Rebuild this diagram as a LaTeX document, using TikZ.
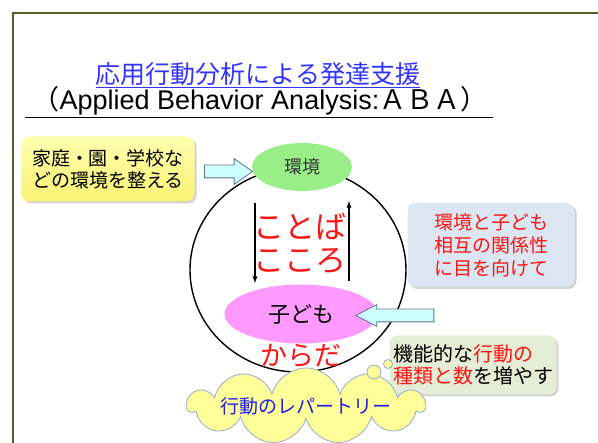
\documentclass[tikz,border=0pt]{standalone}
\usepackage{fontspec}
\setmainfont{Liberation Sans}
\newfontfamily\jp{Noto Sans CJK JP}
\usetikzlibrary{shapes.geometric,shapes.arrows,shapes.symbols,shadows}
\definecolor{framegreen}{RGB}{79,98,40}
\definecolor{titleblue}{RGB}{51,51,255}
\definecolor{yellowtop}{RGB}{255,255,175}
\definecolor{yellowbot}{RGB}{250,242,115}
\definecolor{cloudyellow}{RGB}{255,255,153}
\definecolor{envgreen}{RGB}{153,238,136}
\definecolor{kidpink}{RGB}{255,153,255}
\definecolor{arrcyan}{RGB}{204,255,255}
\definecolor{arrline}{RGB}{95,115,135}
\definecolor{boxblue}{RGB}{220,230,242}
\definecolor{boxgreen}{RGB}{228,237,214}
\definecolor{cloudline}{RGB}{150,172,205}
\definecolor{abared}{RGB}{255,20,20}
\definecolor{repblue}{RGB}{30,30,230}
\begin{document}
\begin{tikzpicture}[x=1pt,y=-1pt,inner sep=0pt,outer sep=0pt,
textbox/.style={rectangle,rounded corners=8pt,align=center,
  drop shadow={opacity=0.35,shadow xshift=2pt,shadow yshift=-2pt}},
blockarrow/.style={single arrow,draw=arrline,fill=arrcyan,line width=0.8pt,single arrow head indent=0pt},
jpfont/.style n args={2}{font=\jp\fontsize{#1}{#2}\selectfont}]
\useasboundingbox (0,0) rectangle (598,443);
% frame of the slide
\coordinate (fb) at (13,445);
\coordinate (ft) at (13,13);
\coordinate (fr) at (600,13);
\draw[framegreen,line width=2pt] (fb) -- (ft) -- (fr);
% title
\draw (258,84) node[anchor=base,text=titleblue,jpfont={25}{28}] (title) {応用行動分析による発達支援};
\draw[titleblue,line width=1pt] ([yshift=-1.5pt]title.south west) -- ([yshift=-1.5pt]title.south east);
\draw (260,110) node[anchor=base,font=\fontsize{27}{30}\selectfont] (subtitle) {{\jp （}Applied Behavior Analysis:{\jp ＡＢＡ）}};
\coordinate (ul) at (25,118);
\coordinate (ur) at (493,118);
\draw[line width=1pt] (ul) -- (ur);
% ring of environment and child
\draw (298,270) node[draw,ellipse,line width=1.4pt,minimum width=216pt,minimum height=204pt] (ring) {};
\draw (302,167) node[ellipse,fill=envgreen,minimum width=100pt,minimum height=48pt,text=black!80,jpfont={18}{20}] (env) {環境};
\draw (301,314) node[ellipse,fill=kidpink,minimum width=153pt,minimum height=59pt,jpfont={22}{24}] (kid) {子ども};
\draw (300,243) node[align=center,text=abared,jpfont={31}{33}] (words) {ことば\\こころ};
\draw (301,356) node[text=abared,jpfont={27}{30}] (body) {からだ};
\coordinate (dtop) at (255,203);
\coordinate (dbot) at (255,283);
\coordinate (ubot) at (349,281);
\coordinate (utop) at (349,201);
\draw[->,>=latex,line width=1.3pt] (dtop) -- (dbot);
\draw[->,>=latex,line width=1.3pt] (ubot) -- (utop);
% boxes
\draw (108,169) node[textbox,top color=yellowtop,bottom color=yellowbot,minimum width=173pt,minimum height=65pt,jpfont={19}{22}] (home) {家庭・園・学校な\\どの環境を整える};
\draw (224,171.5) node[blockarrow,inner ysep=6pt,minimum height=48pt,single arrow head extend=6.5pt,single arrow tip angle=70] (homearr) {};
\draw (491,245) node[textbox,fill=boxblue,minimum width=167pt,minimum height=84pt,text=abared,jpfont={19}{23}] (rel) {環境と子ども\\相互の関係性\\に目を向けて};
\draw (401,315.5) node[blockarrow,shape border rotate=180,inner ysep=6pt,minimum height=78pt,single arrow head extend=4.5pt,single arrow tip angle=55] (relarr) {};
\draw (473,365) node[textbox,fill=boxgreen,minimum width=167pt,minimum height=59pt,align=left,jpfont={20}{22}] (func) {機能的な\textcolor{abared}{行動の}\\\textcolor{abared}{種類と数}を増やす};
% thought cloud
\draw (306,406) node[cloud,cloud puffs=11,cloud ignores aspect,draw=cloudline,fill=cloudyellow,line width=0.8pt,minimum width=203pt,minimum height=68pt,text=repblue,jpfont={19}{22}] (rep) {行動のレパートリー};
\draw (374,372) node[circle,draw=cloudline,fill=cloudyellow,line width=0.8pt,minimum size=14pt] (bub1) {};
\draw (388,364) node[circle,draw=cloudline,fill=cloudyellow,line width=0.8pt,minimum size=9pt] (bub2) {};
\end{tikzpicture}
\end{document}
